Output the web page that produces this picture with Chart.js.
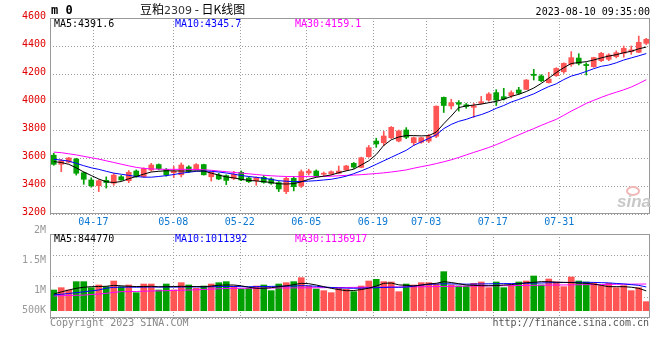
<!DOCTYPE html>
<html>
<head>
<meta charset="utf-8">
<script src="https://cdn.jsdelivr.net/npm/chart.js@4.4.0/dist/chart.umd.min.js"></script>
<style>
  body { margin: 0; background: #fff; }
  #wrap { position: relative; width: 660px; height: 360px; overflow: hidden; }
  canvas { position: absolute; left: 0; }
  .t { position: absolute; white-space: nowrap; line-height: 1; font-family: "DejaVu Sans Mono", monospace; font-size: 10px; }
</style>
</head>
<body>
<div id="wrap">
  <canvas id="price" width="660" height="232" style="top:0"></canvas>
  <canvas id="vol" width="660" height="136" style="top:224px"></canvas>

  <div class="t" style="left:51px;top:4px;font-weight:bold;font-size:12px">m 0</div>
  <div class="t" style="left:140px;top:3px;font-family:'Noto Sans CJK SC';font-size:12px">豆粕<span style="font-family:'DejaVu Sans';font-size:11px;color:#333">2309</span> - 日K线图</div>
  <div class="t" style="right:10px;top:7px">2023-08-10 09:35:00</div>

  <div class="t" style="left:54px;top:19px;color:#000">MA5:4391.6</div>
  <div class="t" style="left:175px;top:19px;color:#0000ff">MA10:4345.7</div>
  <div class="t" style="left:295px;top:19px;color:#ff00ff">MA30:4159.1</div>

  <div class="t" style="left:54px;top:234px;color:#000">MA5:844770</div>
  <div class="t" style="left:175px;top:234px;color:#0000ff">MA10:1011392</div>
  <div class="t" style="left:295px;top:234px;color:#ff00ff">MA30:1136917</div>

  <div style="position:absolute;left:626px;top:186px;width:10px;height:6px;border:2px solid #f2b8b8;border-radius:50%"></div>
  <div class="t" style="left:617px;top:193px;font-family:'Liberation Sans';font-style:italic;font-weight:bold;font-size:17px;color:#c8c8c8">sina</div>

  <div class="t" style="left:50px;top:318px;color:#888">Copyright 2023 SINA.COM</div>
  <div class="t" style="right:11px;top:318px;color:#555">http://finance.sina.com.cn</div>
</div>

<script>
// 交易日
const dates = ['04-14','04-17','04-18','04-19','04-20','04-21','04-24','04-25','04-26','04-27','04-28',
  '05-04','05-05','05-08','05-09','05-10','05-11','05-12','05-15','05-16','05-17','05-18','05-19',
  '05-22','05-23','05-24','05-25','05-26','05-29','05-30','05-31',
  '06-01','06-02','06-05','06-06','06-07','06-08','06-09','06-12','06-13','06-14','06-15','06-16',
  '06-19','06-20','06-21','06-26','06-27','06-28','06-29','06-30',
  '07-03','07-04','07-05','07-06','07-07','07-10','07-11','07-12','07-13','07-14',
  '07-17','07-18','07-19','07-20','07-21','07-24','07-25','07-26','07-27','07-28',
  '07-31','08-01','08-02','08-03','08-04','08-07','08-08','08-09','08-10'];
const tickDates = ['04-17','05-08','05-22','06-05','06-19','07-03','07-17','07-31'];

const opens = [3620,3555,3570,3593,3495,3443,3402,3440,3420,3466, 3438,3507,3468,3514,3553,3518,3495,3480,3536,3520,
  3553,3466,3479,3474,3455,3498,3457,3438,3462,3450, 3424,3360,3455,3400,3493,3507,3484,3486,3491,3514,
  3562,3533,3609,3721,3709,3745,3721,3800,3709,3712, 3721,3755,4033,3972,3996,3980,3962,3990,4014,4067,
  4038,4045,4086,4090,4198,4186,4138,4188,4216,4269, 4314,4268,4252,4295,4305,4324,4348,4360,4355,4419];
const highs = [3634,3590,3605,3598,3500,3459,3445,3465,3490,3475, 3510,3515,3530,3562,3558,3525,3540,3565,3545,3560,
  3556,3500,3490,3480,3505,3508,3465,3465,3475,3458, 3432,3465,3468,3515,3520,3515,3500,3508,3543,3548,
  3568,3606,3690,3741,3790,3825,3800,3817,3750,3748, 3770,3972,4036,4020,4010,3990,3990,4040,4067,4088,
  4098,4080,4105,4160,4233,4195,4212,4245,4280,4360, 4345,4280,4320,4355,4345,4365,4400,4400,4471,4455];
const lows = [3548,3502,3565,3478,3412,3392,3360,3385,3405,3440, 3424,3462,3462,3505,3515,3470,3460,3465,3495,3515,
  3478,3435,3445,3410,3445,3438,3425,3405,3420,3412, 3360,3345,3365,3390,3478,3467,3470,3480,3487,3510,
  3525,3530,3605,3676,3688,3738,3715,3738,3690,3705, 3710,3745,3925,3950,3935,3955,3890,3985,4005,3975,
  4014,4030,4055,4088,4157,4145,4135,4183,4205,4255, 4265,4193,4248,4288,4295,4315,4320,4340,4352,4410];
const closes = [3555,3581,3600,3491,3448,3402,3438,3425,3478,3443, 3498,3466,3525,3550,3524,3480,3505,3550,3505,3553,
  3480,3497,3450,3440,3484,3443,3431,3460,3426,3419, 3379,3455,3395,3502,3507,3472,3490,3502,3507,3543,
  3535,3602,3674,3700,3757,3819,3793,3748,3745,3745, 3757,3970,3975,3995,3984,3968,3972,4002,4057,4014,
  4022,4067,4062,4157,4190,4152,4164,4240,4276,4317, 4276,4260,4317,4348,4336,4352,4383,4372,4426,4448];

const ma5 = [3574,3568,3555,3530,3500,3475,3450,3430,3425,3432, 3452,3468,3485,3500,3505,3509,3508,3507,3507,3508,
  3507,3492,3478,3465,3458,3448,3440,3436,3431,3425, 3416,3414,3417,3430,3448,3462,3470,3479,3495,3508,
  3520,3550,3580,3625,3690,3730,3750,3760,3760,3758, 3760,3785,3845,3900,3960,3972,3978,3985,3995,4005,
  4020,4040,4055,4075,4100,4133,4170,4210,4245,4275, 4282,4288,4300,4315,4328,4338,4352,4362,4380,4392];
const ma10 = [3591,3585,3578,3562,3545,3530,3519,3505,3492,3484, 3476,3468,3463,3463,3468,3474,3482,3491,3498,3505,
  3507,3505,3500,3493,3485,3475,3468,3462,3455,3447, 3438,3434,3431,3432,3435,3438,3443,3448,3458,3470,
  3488,3508,3530,3555,3580,3605,3630,3655,3690,3715, 3740,3765,3810,3840,3862,3876,3895,3910,3930,3955,
  3975,4000,4018,4038,4058,4085,4110,4130,4160,4185, 4200,4218,4238,4255,4264,4280,4300,4315,4330,4346];
const ma30 = [3642,3638,3630,3622,3612,3602,3592,3580,3568,3556, 3544,3533,3526,3522,3520,3519,3519,3519,3519,3518,
  3516,3512,3507,3502,3497,3492,3487,3482,3477,3473, 3470,3468,3467,3467,3467,3467,3468,3470,3473,3476,
  3478,3481,3485,3489,3494,3500,3507,3515,3527,3538, 3548,3560,3573,3587,3604,3622,3640,3657,3675,3695,
  3718,3742,3765,3788,3810,3833,3855,3876,3905,3935, 3962,3990,4012,4033,4053,4070,4087,4107,4132,4159];

const volumes = [882000,981000,882000,1237000,1237000,981000,1095000,1024000,1265000,1024000,
  1095000,768000,1137000,1137000,882000,1137000,882000,1194000,1095000,953000,
  1052000,1137000,1194000,1237000,1052000,924000,953000,1052000,1095000,853000,
  1137000,1194000,1237000,1407000,1052000,924000,853000,768000,953000,910000,
  811000,1052000,1265000,1336000,1237000,1223000,811000,1137000,1095000,1194000,
  1194000,1137000,1663000,1095000,1052000,1052000,1166000,1223000,981000,1223000,
  981000,1095000,1223000,1265000,1478000,1095000,1350000,1223000,1024000,1436000,
  1265000,1223000,1194000,1066000,1166000,981000,1066000,853000,981000,385000];
const volMa5 = [711000,800000,880000,953000,1000000,1024000,1030000,1040000,1080000,1060000,
  1040000,1030000,1030000,1040000,1020000,1024000,1030000,1040000,1030000,1030000,
  1020000,1050000,1085000,1095000,1095000,1060000,1000000,955000,953000,980000,
  1024000,1060000,1110000,1166000,1150000,1095000,1024000,953000,900000,850000,
  860000,900000,960000,1052000,1166000,1180000,1100000,1080000,1052000,1090000,
  1140000,1166000,1237000,1200000,1150000,1095000,1080000,1066000,1066000,1070000,
  1095000,1110000,1150000,1194000,1210000,1237000,1237000,1215000,1208000,1200000,
  1180000,1166000,1130000,1080000,1024000,1024000,1024000,1000000,953000,845000];
const volMa10 = [669000,700000,735000,768000,805000,845000,882000,960000,995000,1000000,
  1005000,1000000,1005000,1010000,1005000,1010000,1005000,1010000,1015000,1010000,
  1015000,1020000,1025000,1030000,1030000,1025000,1020000,1025000,1030000,1035000,
  1040000,1045000,1050000,1065000,1060000,1040000,1010000,990000,970000,960000,
  955000,960000,970000,980000,990000,1000000,995000,1010000,1050000,1090000,
  1120000,1135000,1145000,1140000,1135000,1130000,1135000,1140000,1145000,1150000,
  1155000,1155000,1160000,1166000,1175000,1180000,1190000,1195000,1200000,1205000,
  1210000,1208000,1205000,1195000,1185000,1160000,1140000,1110000,1080000,1011000];
const volMa30 = [626000,640000,650000,655000,665000,690000,711000,740000,780000,811000,
  815000,820000,830000,840000,845000,855000,865000,872000,880000,890000,
  905000,920000,935000,945000,953000,955000,958000,960000,962000,965000,
  968000,970000,972000,975000,977000,979000,981000,983000,986000,990000,
  993000,996000,999000,1002000,1005000,1008000,1011000,1014000,1017000,1020000,
  1024000,1028000,1033000,1037000,1041000,1045000,1049000,1053000,1057000,1061000,
  1065000,1069000,1073000,1077000,1081000,1085000,1089000,1093000,1097000,1101000,
  1105000,1109000,1113000,1117000,1121000,1125000,1128000,1131000,1134000,1137000];

const volTickLabels = ['500K', '1M', '1.5M', '2M'];
const volTickValues = [500000, 1000000, 1500000, 2000000];

// 颜色
const RED = '#ff5555';
const GREEN = '#00a000';
const GRID = '#9c9c9c';
const MONO = '"DejaVu Sans Mono", monospace';

const candleColors = closes.map((c, i) => c >= opens[i] ? RED : GREEN);
const tickIdx = tickDates.map(d => dates.indexOf(d));

Chart.defaults.font.family = MONO;
Chart.defaults.font.size = 10;

const framePlugin = {
  id: 'frame',
  afterDraw(chart) {
    const a = chart.chartArea, ctx = chart.ctx;
    ctx.save();
    ctx.strokeStyle = '#999';
    ctx.lineWidth = 1;
    ctx.strokeRect(a.left + 0.5, a.top + 0.5, a.right - a.left - 1, a.bottom - a.top - 1);
    ctx.restore();
  }
};

// 点状网格线
const dotGridPlugin = {
  id: 'dotGrid',
  beforeDatasetsDraw(chart) {
    const a = chart.chartArea, ctx = chart.ctx;
    const ids = chart.canvas.id === 'price' ? ['xg', 'y'] : ['xg', 'yg'];
    ctx.save();
    ctx.fillStyle = GRID;
    ids.forEach(id => {
      const s = chart.scales[id];
      s.ticks.forEach(t => {
        const p = Math.round(s.getPixelForValue(t.value));
        if (s.isHorizontal()) {
          for (let y = Math.round(a.top); y < a.bottom; y += 3) ctx.fillRect(p, y, 1, 1);
        } else {
          for (let x = Math.round(a.left); x < a.right; x += 3) ctx.fillRect(x, p, 1, 1);
        }
      });
    });
    ctx.restore();
  }
};

// 成交量坐标文字
const volLabelPlugin = {
  id: 'volLabels',
  afterDraw(chart) {
    const s = chart.scales.yl, ctx = chart.ctx;
    ctx.save();
    ctx.fillStyle = '#999';
    ctx.font = '10px ' + MONO;
    ctx.textAlign = 'right';
    ctx.textBaseline = 'middle';
    volTickValues.forEach((v, i) => {
      const y = Math.min(s.getPixelForValue(v) - 2, 86);
      ctx.fillText(volTickLabels[i], 46, y);
    });
    ctx.restore();
  }
};

function gridAxis(showLabels, h) {
  return {
    type: 'linear', position: 'bottom', min: 0.12, max: 79,
    afterBuildTicks: s => { s.ticks = tickIdx.map(v => ({ value: v })); },
    afterFit: s => { s.height = h; },
    grid: { display: false, drawTicks: false },
    border: { display: false },
    ticks: {
      display: showLabels, autoSkip: false, maxRotation: 0, padding: 2,
      color: '#0a78d2', callback: v => dates[v]
    }
  };
}

function line(data, color) {
  return { type: 'line', data: data, borderColor: color, borderWidth: 1, pointRadius: 0, tension: 0, order: 0 };
}

new Chart(document.getElementById('price'), {
  type: 'bar',
  data: {
    labels: dates,
    datasets: [
      line(ma5, '#000000'),
      line(ma10, '#0000ff'),
      line(ma30, '#ff00ff'),
      { data: dates.map((d, i) => [lows[i], highs[i]]), backgroundColor: candleColors, barThickness: 1, grouped: false, order: 2 },
      { data: dates.map((d, i) => [opens[i], closes[i]]), backgroundColor: candleColors, barThickness: 5, grouped: false, minBarLength: 1, order: 1 }
    ]
  },
  options: {
    responsive: false, animation: false, devicePixelRatio: 1,
    layout: { padding: { top: 18, right: 10, left: 0, bottom: 0 } },
    plugins: { legend: { display: false }, tooltip: { enabled: false } },
    scales: {
      x: { type: 'category', display: false, offset: true },
      xg: gridAxis(true, 18),
      y: {
        min: 3200, max: 4600,
        afterFit: s => { s.width = 50; },
        ticks: { stepSize: 200, color: '#e00000', padding: 4, labelOffset: -2, callback: v => String(v) },
        grid: { display: false, drawTicks: false },
        border: { display: false }
      }
    }
  },
  plugins: [dotGridPlugin, framePlugin]
});

new Chart(document.getElementById('vol'), {
  type: 'bar',
  data: {
    labels: dates,
    datasets: [
      line(volMa5, '#000000'),
      line(volMa10, '#0000ff'),
      line(volMa30, '#ff00ff'),
      { data: volumes, backgroundColor: candleColors, barThickness: 6, order: 1 }
    ]
  },
  options: {
    responsive: false, animation: false, devicePixelRatio: 1,
    layout: { padding: { top: 10, right: 10, left: 50, bottom: 42 } },
    plugins: { legend: { display: false }, tooltip: { enabled: false } },
    scales: {
      x: { type: 'category', display: false, offset: true },
      xg: gridAxis(false, 0),
      y: { display: false, min: -311000, max: 3267000 },
      yl: { display: false, min: 566700, max: 1966700 },
      yg: {
        position: 'left', min: 0, max: 4,
        afterFit: s => { s.width = 0; },
        ticks: { display: false, stepSize: 1 },
        grid: { display: false, drawTicks: false },
        border: { display: false }
      }
    }
  },
  plugins: [dotGridPlugin, framePlugin, volLabelPlugin]
});
</script>
</body>
</html>
